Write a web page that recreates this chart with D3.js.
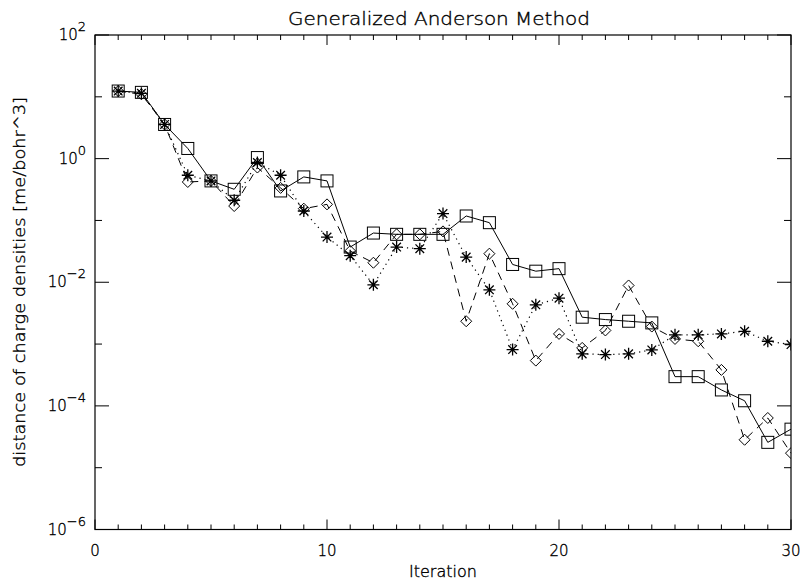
<!DOCTYPE html>
<html>
<head>
<meta charset="utf-8">
<script src="https://cdn.jsdelivr.net/npm/d3@7"></script>
<style>
  html, body { margin: 0; padding: 0; background: #fff; }
  svg { display: block; }
  text { font-family: "DejaVu Sans", sans-serif; font-weight: 200; fill: #000; stroke: #000; stroke-width: 0.35px; }
</style>
</head>
<body>
<svg id="chart" width="802" height="582"></svg>
<script>
// ---- Data ----
const iterations = d3.range(1, 31);

const squareSeries = [12.4, 11.8, 3.57, 1.46, 0.436, 0.319, 1.04, 0.30, 0.506, 0.436,
  0.0371, 0.0625, 0.0596, 0.0596, 0.0596, 0.118, 0.092, 0.0194, 0.0151, 0.0166,
  0.00272, 0.00249, 0.00234, 0.0022, 0.000297, 0.000297, 0.000181, 0.000121, 2.57e-5, 4.2e-5];

const diamondSeries = [12.4, 11.0, 3.57, 0.419, 0.436, 0.171, 0.718, 0.336, 0.155, 0.182,
  0.032, 0.0207, 0.0596, 0.0596, 0.0665, 0.00234, 0.029, 0.00448, 0.00054, 0.00146,
  0.000867, 0.00166, 0.00887, 0.00192, 0.00121, 0.00111, 0.000382, 2.83e-5, 6.37e-5, 1.72e-5];

const asteriskSeries = [12.4, 11.4, 3.57, 0.538, 0.436, 0.212, 0.865, 0.538, 0.142, 0.0538,
  0.0269, 0.0091, 0.0371, 0.0349, 0.129, 0.0255, 0.00755, 0.000814, 0.00431, 0.00552,
  0.000694, 0.000676, 0.000694, 0.000805, 0.00141, 0.00141, 0.00146, 0.00161, 0.00111, 0.00098];

const xMajorTicks = [0, 10, 20, 30];
const xMinorTicks = d3.range(0, 31);
const yMajorExps = [2, 0, -2, -4, -6];
const yMinorExps = [1, -1, -3, -5];

const titleText = "Generalized Anderson Method";
const xLabel = "Iteration";
const yLabel = "distance of charge densities [me/bohr^3]";

// ---- Layout ----
const svg = d3.select("#chart");
const L = 95, R = 791, T = 35, B = 529.5;

const x = d3.scaleLinear().domain([0, 30]).range([L, R]);
const y = d3.scaleLog().domain([1e-6, 1e2]).range([B, T]);

const xMajLen = 10, xMinLen = 5, yMajLen = 14, yMinLen = 7;

// frame
svg.append("rect").attr("x", L).attr("y", T).attr("width", R - L).attr("height", B - T)
  .attr("fill", "none").attr("stroke", "#000").attr("stroke-width", 1.2);

const ticks = svg.append("g").attr("stroke", "#000").attr("stroke-width", 1);
// x ticks (bottom and top)
xMinorTicks.forEach(v => {
  const len = xMajorTicks.includes(v) ? xMajLen : xMinLen;
  ticks.append("line").attr("x1", x(v)).attr("x2", x(v)).attr("y1", B).attr("y2", B - len);
  ticks.append("line").attr("x1", x(v)).attr("x2", x(v)).attr("y1", T).attr("y2", T + len);
});
// y ticks (left and right)
yMajorExps.concat(yMinorExps).forEach(e => {
  const len = yMajorExps.includes(e) ? yMajLen : yMinLen;
  const yy = y(Math.pow(10, e));
  ticks.append("line").attr("x1", L).attr("x2", L + len).attr("y1", yy).attr("y2", yy);
  ticks.append("line").attr("x1", R).attr("x2", R - len).attr("y1", yy).attr("y2", yy);
});

// x tick labels
svg.append("g").selectAll("text").data(xMajorTicks).join("text")
  .attr("x", d => x(d)).attr("y", 556)
  .attr("text-anchor", "middle").attr("font-size", 15)
  .text(d => d);

// y tick labels
const yl = svg.append("g").selectAll("text").data(yMajorExps).join("text")
  .attr("x", 86).attr("y", d => y(Math.pow(10, d)) + 5)
  .attr("text-anchor", "end").attr("font-size", 15);
yl.append("tspan").text("10");
yl.append("tspan").attr("dy", -9).attr("font-size", 13)
  .text(d => d < 0 ? "\u2212" + Math.abs(d) : String(d));

// title and axis labels
svg.append("text").attr("x", 439).attr("y", 25).attr("text-anchor", "middle")
  .attr("font-size", 17).attr("textLength", 302).attr("lengthAdjust", "spacingAndGlyphs")
  .text(titleText);
svg.append("text").attr("x", 443).attr("y", 577).attr("text-anchor", "middle")
  .attr("font-size", 15).attr("textLength", 68).attr("lengthAdjust", "spacingAndGlyphs")
  .text(xLabel);
svg.append("text").attr("transform", `translate(25,282) rotate(-90)`)
  .attr("text-anchor", "middle").attr("font-size", 15)
  .attr("textLength", 370).attr("lengthAdjust", "spacingAndGlyphs").text(yLabel);

// ---- series ----
const line = d3.line().x((d, i) => x(iterations[i])).y(d => y(d));
const plot = svg.append("g");
const clip = svg.append("clipPath").attr("id", "clip").append("rect")
  .attr("x", L).attr("y", T).attr("width", R - L).attr("height", B - T);

plot.append("path").datum(squareSeries).attr("d", line)
  .attr("fill", "none").attr("stroke", "#000").attr("stroke-width", 1);
plot.append("path").datum(diamondSeries).attr("d", line)
  .attr("fill", "none").attr("stroke", "#000").attr("stroke-width", 1)
  .attr("stroke-dasharray", "8,6");
plot.append("path").datum(asteriskSeries).attr("d", line)
  .attr("fill", "none").attr("stroke", "#000").attr("stroke-width", 1.2)
  .attr("stroke-dasharray", "1.2,4");

// markers
const mk = svg.append("g").attr("clip-path", "url(#clip)");
mk.selectAll("rect.sq").data(squareSeries).join("rect").attr("class", "sq")
  .attr("x", (d, i) => x(iterations[i]) - 6).attr("y", d => y(d) - 6)
  .attr("width", 12).attr("height", 12)
  .attr("fill", "none").attr("stroke", "#000").attr("stroke-width", 1);
mk.selectAll("path.dm").data(diamondSeries).join("path").attr("class", "dm")
  .attr("d", (d, i) => {
    const cx = x(iterations[i]), cy = y(d), r = 5.5;
    return `M${cx},${cy - r}L${cx + r},${cy}L${cx},${cy + r}L${cx - r},${cy}Z`;
  })
  .attr("fill", "none").attr("stroke", "#000").attr("stroke-width", 1);
mk.selectAll("path.as").data(asteriskSeries).join("path").attr("class", "as")
  .attr("d", (d, i) => {
    const cx = x(iterations[i]), cy = y(d), r = 6, q = 4.3;
    return `M${cx - r},${cy}L${cx + r},${cy}M${cx},${cy - r}L${cx},${cy + r}` +
      `M${cx - q},${cy - q}L${cx + q},${cy + q}M${cx - q},${cy + q}L${cx + q},${cy - q}`;
  })
  .attr("fill", "none").attr("stroke", "#000").attr("stroke-width", 1.3);
</script>
</body>
</html>
